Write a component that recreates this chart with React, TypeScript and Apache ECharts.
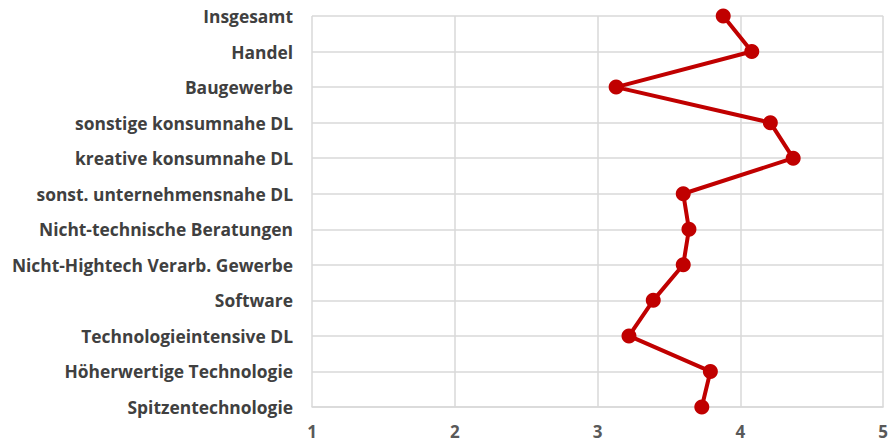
import React, { useEffect, useRef } from "react";
import * as echarts from "echarts";

const categories = [
  "Insgesamt",
  "Handel",
  "Baugewerbe",
  "sonstige konsumnahe DL",
  "kreative konsumnahe DL",
  "sonst. unternehmensnahe DL",
  "Nicht-technische Beratungen",
  "Nicht-Hightech Verarb. Gewerbe",
  "Software",
  "Technologieintensive DL",
  "Höherwertige Technologie",
  "Spitzentechnologie",
];

const values = [3.88, 4.08, 3.13, 4.21, 4.37, 3.6, 3.64, 3.6, 3.39, 3.22, 3.79, 3.73];

const xMin = 1;
const xMax = 5;
const xInterval = 1;

export default function App() {
  const ref = useRef<HTMLDivElement>(null);
  useEffect(() => {
    document.body.style.margin = "0";
    const chart = echarts.init(ref.current!, undefined, { renderer: "svg" });
    chart.setOption({
      animation: false,
      grid: { left: 312, right: 7, top: 16, bottom: 38, containLabel: false },
      xAxis: {
        type: "value",
        min: xMin,
        max: xMax,
        interval: xInterval,
        axisLine: { show: true, lineStyle: { color: "#d9d9d9", width: 1.5 } },
        axisTick: { show: false },
        splitLine: { show: true, lineStyle: { color: "#d9d9d9", width: 1.5 } },
        axisLabel: {
          color: "#595959",
          fontFamily: "Open Sans",
          fontWeight: "bold",
          fontSize: 17,
          margin: 16,
        },
      },
      yAxis: {
        type: "category",
        data: categories,
        inverse: true,
        boundaryGap: false,
        axisLine: { show: false },
        axisTick: { show: false },
        splitLine: { show: true, interval: 0, lineStyle: { color: "#d9d9d9", width: 1.5 } },
        axisLabel: {
          interval: 0,
          color: "#404040",
          fontFamily: "Open Sans",
          fontWeight: "bold",
          fontSize: 17.4,
          margin: 19,
        },
      },
      series: [
        {
          type: "line",
          data: values,
          symbol: "circle",
          symbolSize: 15,
          lineStyle: { color: "#C00000", width: 4 },
          itemStyle: { color: "#C00000" },
        },
      ],
    });
    return () => chart.dispose();
  }, []);
  return <div ref={ref} style={{ width: 891, height: 445 }} />;
}
